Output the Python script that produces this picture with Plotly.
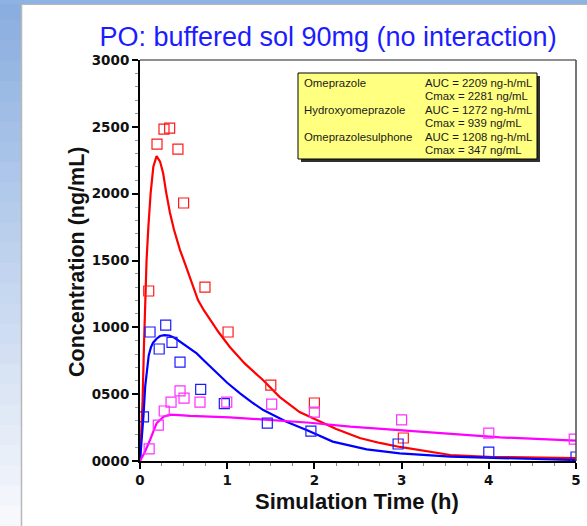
import plotly.graph_objects as go

# ---------------- data ----------------
title_text = "PO: buffered sol 90mg (no interaction)"
x_title = "Simulation Time (h)"
y_title = "Concentration (ng/mL)"

x_tick_vals = [0, 1, 2, 3, 4, 5]
x_tick_text = ["0", "1", "2", "3", "4", "5"]
y_tick_vals = [0, 500, 1000, 1500, 2000, 2500, 3000]
y_tick_text = ["0000", "0500", "1000", "1500", "2000", "2500", "3000"]

series_names = ["Omeprazole", "Hydroxyomeprazole", "Omeprazolesulphone"]
auc_values = [2209, 1272, 1208]
cmax_values = [2281, 939, 347]

# simulated curves
ome_sim_t = [0, 0.015, 0.03, 0.045, 0.057, 0.075, 0.096, 0.122, 0.153, 0.19, 0.23, 0.265,
             0.30, 0.344, 0.39, 0.459, 0.52, 0.573, 0.665, 0.73, 0.803, 0.9, 1.03, 1.2,
             1.41, 1.6, 1.83, 2.0, 2.25, 2.52, 2.75, 2.98, 3.25, 3.56, 4.05, 4.5, 5.0]
ome_sim_c = [0, 200, 456, 850, 1204, 1500, 1752, 2004, 2201, 2281, 2240, 2154,
             2010, 1855, 1730, 1578, 1470, 1376, 1204, 1130, 1055, 965, 853, 730,
             606, 480, 366, 314, 240, 172, 135, 105, 75, 45, 30, 25, 22]

oh_sim_t = [0, 0.02, 0.04, 0.06, 0.08, 0.10, 0.125, 0.15, 0.19, 0.23, 0.28, 0.336, 0.40, 0.46,
            0.55, 0.65, 0.76, 0.88, 1.0, 1.147, 1.28, 1.414, 1.55, 1.68, 1.93, 2.21, 2.6, 2.98,
            3.56, 4.13, 5.0]
oh_sim_c = [0, 150, 340, 560, 700, 790, 850, 885, 915, 935, 942, 939, 920, 892,
            850, 805, 735, 656, 585, 506, 440, 381, 335, 294, 227, 145, 87, 57,
            32, 20, 7]

so_sim_t = [0, 0.05, 0.115, 0.19, 0.27, 0.344, 0.45, 0.573, 1.03, 1.49, 1.95, 2.41, 2.98, 3.56,
            4.13, 5.0]
so_sim_c = [0, 60, 157, 282, 331, 347, 343, 337, 327, 307, 286, 257, 232, 202, 177, 152]

# observed data
ome_obs_t = [0.10, 0.195, 0.275, 0.34, 0.435, 0.50, 0.745, 1.01, 1.50, 2.0, 3.02]
ome_obs_c = [1272, 2371, 2483, 2490, 2333, 1930, 1301, 965, 568, 434, 172]

oh_obs_t = [0.04, 0.115, 0.22, 0.295, 0.367, 0.459, 0.696, 0.967, 1.46, 1.96, 2.96, 4.0, 5.0]
oh_obs_c = [330, 965, 838, 1017, 888, 740, 536, 429, 284, 224, 127, 67, 30]

so_obs_t = [0.105, 0.21, 0.278, 0.356, 0.459, 0.505, 0.688, 0.995, 1.51, 2.0, 3.0, 4.0, 4.98]
so_obs_c = [90, 269, 374, 441, 524, 471, 441, 441, 426, 366, 307, 209, 164]

# ---------------- styling ----------------
W, H = 587, 526
L, R, T, B = 140, 11, 60, 65
PW, PH = W - L - R, H - T - B


def px_x(px):
    return (px - L) / PW


def px_y(py):
    return (H - B - py) / PH


colors = ["#ff0000", "#0000ff", "#ff00ff"]
mcolors = ["#ff1a1a", "#1a1aff", "#ff30ff"]

fig = go.Figure()

sims = [(ome_sim_t, ome_sim_c), (oh_sim_t, oh_sim_c), (so_sim_t, so_sim_c)]
obs = [(ome_obs_t, ome_obs_c), (oh_obs_t, oh_obs_c), (so_obs_t, so_obs_c)]

for i in range(3):
    fig.add_trace(go.Scatter(x=sims[i][0], y=sims[i][1], mode="lines",
                             line=dict(color=colors[i], width=2.2),
                             name=series_names[i], showlegend=False))
for i in range(3):
    fig.add_trace(go.Scatter(x=obs[i][0], y=obs[i][1], mode="markers",
                             marker=dict(symbol="square-open", size=10, color=mcolors[i],
                                         line=dict(width=1.2, color=mcolors[i])),
                             name=series_names[i] + " obs", showlegend=False))

shapes = []
# left gradient strip
n_bands = 26
c0 = (138, 174, 224)
c1 = (246, 248, 252)
for k in range(n_bands):
    f = k / (n_bands - 1)
    col = "rgb(%d,%d,%d)" % tuple(int(round(c0[j] + (c1[j] - c0[j]) * f)) for j in range(3))
    y_top = k * H / n_bands
    y_bot = (k + 1) * H / n_bands + 1
    shapes.append(dict(type="rect", xref="paper", yref="paper", layer="below",
                       x0=px_x(0), x1=px_x(21), y0=px_y(y_bot), y1=px_y(y_top),
                       fillcolor=col, line=dict(width=0)))
# top strip
shapes.append(dict(type="rect", xref="paper", yref="paper", layer="below",
                   x0=px_x(0), x1=px_x(W), y0=px_y(4), y1=px_y(0),
                   fillcolor="rgb(142,178,226)", line=dict(width=0)))
# panel border lines
shapes.append(dict(type="line", xref="paper", yref="paper", x0=px_x(21.5), x1=px_x(21.5),
                   y0=px_y(4), y1=px_y(H), line=dict(color="#b8b8b8", width=1.5)))
shapes.append(dict(type="line", xref="paper", yref="paper", x0=px_x(21.5), x1=px_x(W),
                   y0=px_y(4.5), y1=px_y(4.5), line=dict(color="#b8b8b8", width=1)))
# plot frame (top / right)
shapes.append(dict(type="line", xref="paper", yref="paper", x0=0, x1=1, y0=1, y1=1,
                   line=dict(color="#6a6a6a", width=1.5)))
shapes.append(dict(type="line", xref="paper", yref="paper", x0=1, x1=1, y0=0, y1=1,
                   line=dict(color="#4a4a4a", width=1.5)))
# info box shadow + box
bx0, bx1, by0, by1 = 298, 537, 73, 159
shapes.append(dict(type="rect", xref="paper", yref="paper",
                   x0=px_x(bx0 + 3), x1=px_x(bx1 + 3), y0=px_y(by1 + 3), y1=px_y(by0 + 3),
                   fillcolor="#303030", line=dict(width=0)))
shapes.append(dict(type="rect", xref="paper", yref="paper",
                   x0=px_x(bx0), x1=px_x(bx1), y0=px_y(by1), y1=px_y(by0),
                   fillcolor="#ffff80", line=dict(color="#000000", width=1)))

annotations = []
box_font = dict(family="Liberation Sans, Arial, sans-serif", size=11.4, color="#1a1a1a")
row_y0, row_step = 83, 13.4
for i in range(3):
    ya = row_y0 + (2 * i) * row_step
    yb = row_y0 + (2 * i + 1) * row_step
    annotations.append(dict(xref="paper", yref="paper", x=px_x(302), y=px_y(ya),
                            xanchor="left", yanchor="middle", showarrow=False,
                            text=series_names[i], font=box_font))
    annotations.append(dict(xref="paper", yref="paper", x=px_x(423), y=px_y(ya),
                            xanchor="left", yanchor="middle", showarrow=False,
                            text="AUC = %d ng-h/mL" % auc_values[i], font=box_font))
    annotations.append(dict(xref="paper", yref="paper", x=px_x(423), y=px_y(yb),
                            xanchor="left", yanchor="middle", showarrow=False,
                            text="Cmax = %d ng/mL" % cmax_values[i], font=box_font))

# axis titles
annotations.append(dict(xref="paper", yref="paper", x=px_x(357), y=px_y(501),
                        xanchor="center", yanchor="middle", showarrow=False, text=x_title,
                        font=dict(family="Liberation Sans, Arial, sans-serif", size=22,
                                  color="#111111", weight="bold")))
annotations.append(dict(xref="paper", yref="paper", x=px_x(77), y=px_y(262),
                        xanchor="center", yanchor="middle", showarrow=False, text=y_title,
                        textangle=-90,
                        font=dict(family="Liberation Sans, Arial, sans-serif", size=21.5,
                                  color="#111111", weight="bold")))

tick_font = dict(family="DejaVu Sans, Verdana, sans-serif", size=13.5, color="#111111",
                 weight="bold")

fig.update_layout(
    width=W, height=H,
    autosize=False,
    margin=dict(l=L, r=R, t=T, b=B, pad=0, autoexpand=False),
    paper_bgcolor="white", plot_bgcolor="white",
    title=dict(text=title_text, x=328 / W, xanchor="center", y=1 - 36.5 / H, yanchor="middle",
               yref="container", xref="container", automargin=False,
               font=dict(family="Liberation Sans, Arial, sans-serif", size=27, color="#1c1cff")),
    xaxis=dict(range=[0, 5], tickvals=x_tick_vals, ticktext=x_tick_text, showgrid=False,
               zeroline=False, showline=True, linecolor="black", linewidth=2, automargin=False,
               ticks="outside", ticklen=6, tickwidth=2, tickcolor="black", tickfont=tick_font,
               minor=dict(dtick=0.25, ticks="outside", ticklen=3, tickwidth=1,
                          tickcolor="#888888", showgrid=False)),
    yaxis=dict(range=[0, 3000], tickvals=y_tick_vals, ticktext=y_tick_text, showgrid=False,
               zeroline=False, showline=True, linecolor="black", linewidth=2, automargin=False,
               ticks="outside", ticklen=6, tickwidth=2, tickcolor="black", tickfont=tick_font,
               minor=dict(dtick=100, ticks="outside", ticklen=3, tickwidth=1,
                          tickcolor="#999999", showgrid=False)),
    shapes=shapes,
    annotations=annotations,
    showlegend=False,
)

fig.write_html("out.html")
